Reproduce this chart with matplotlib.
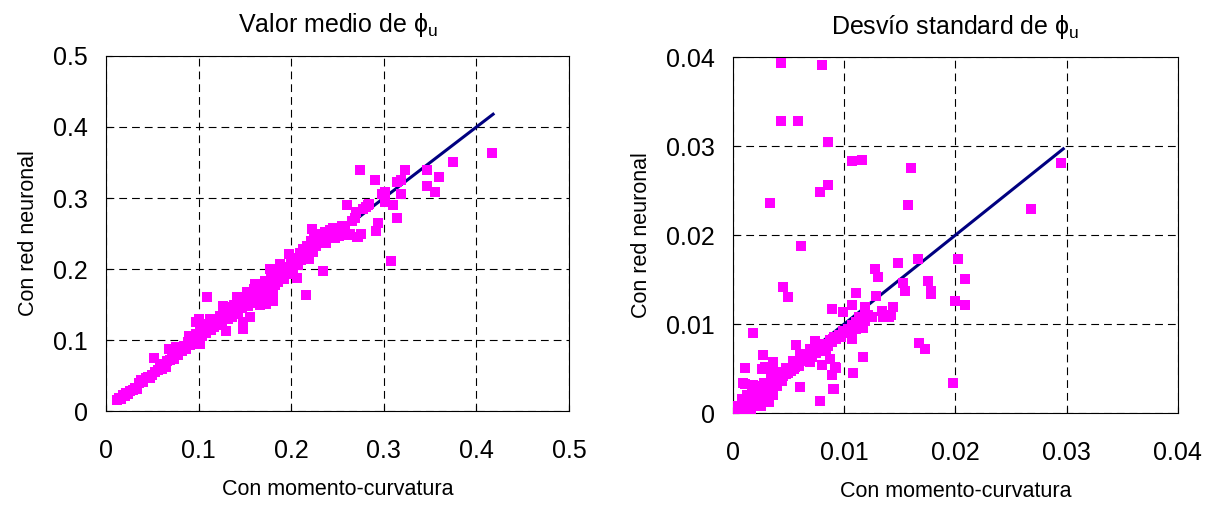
import matplotlib
matplotlib.use("Agg")
import matplotlib.pyplot as plt
from matplotlib import font_manager

plt.rcParams["font.family"] = ["Liberation Sans", "DejaVu Sans"]
plt.rcParams["mathtext.fontset"] = "custom"
plt.rcParams["mathtext.rm"] = "Liberation Sans"
plt.rcParams["mathtext.it"] = "Liberation Sans:italic"

# axis labels in the original are a narrow Arial; use the narrow face if it exists
_names = {f.name for f in font_manager.fontManager.ttflist}
if "Liberation Sans Narrow" in _names:
    LABEL_FONT, LABEL_SIZE = "Liberation Sans Narrow", 19
else:
    LABEL_FONT, LABEL_SIZE = "Liberation Sans", 15.5

# ── data: valor medio (momento-curvatura vs red neuronal) ─────────────────────
media_mc = [
    0.012, 0.014, 0.016, 0.018, 0.020, 0.022, 0.024, 0.026, 0.029, 0.031,
    0.033, 0.036, 0.038, 0.040, 0.043, 0.045, 0.047, 0.050, 0.052, 0.053,
    0.056, 0.058, 0.060, 0.062, 0.065, 0.066, 0.068, 0.069, 0.071, 0.073,
    0.075, 0.076, 0.078, 0.080, 0.082, 0.084, 0.086, 0.088, 0.090, 0.091,
    0.093, 0.095, 0.097, 0.097, 0.099, 0.100, 0.101, 0.102, 0.104, 0.106,
    0.108, 0.109, 0.110, 0.112, 0.113, 0.115, 0.117, 0.119, 0.121, 0.123,
    0.125, 0.126, 0.128, 0.130, 0.130, 0.132, 0.134, 0.136, 0.138, 0.140,
    0.141, 0.143, 0.145, 0.147, 0.148, 0.148, 0.150, 0.152, 0.153, 0.155,
    0.156, 0.158, 0.160, 0.161, 0.162, 0.164, 0.166, 0.168, 0.170, 0.172,
    0.173, 0.175, 0.177, 0.178, 0.180, 0.180, 0.182, 0.184, 0.186, 0.188,
    0.190, 0.192, 0.194, 0.196, 0.198, 0.198, 0.200, 0.202, 0.204, 0.206,
    0.207, 0.209, 0.211, 0.213, 0.215, 0.216, 0.217, 0.219, 0.221, 0.222,
    0.223, 0.225, 0.227, 0.229, 0.231, 0.233, 0.234, 0.236, 0.238, 0.240,
    0.242, 0.245, 0.247, 0.249, 0.252, 0.255, 0.258, 0.260, 0.262, 0.263,
    0.266, 0.269, 0.270, 0.271, 0.272, 0.274, 0.275, 0.278, 0.281, 0.283,
    0.284, 0.290, 0.292, 0.294, 0.298, 0.301, 0.301, 0.308, 0.310, 0.314,
    0.314, 0.318, 0.319, 0.323, 0.347, 0.347, 0.355, 0.360, 0.375, 0.417,
]
media_rn = [
    0.016, 0.019, 0.017, 0.022, 0.021, 0.025, 0.024, 0.028, 0.029, 0.033,
    0.031, 0.040, 0.043, 0.041, 0.046, 0.048, 0.047, 0.051, 0.074, 0.055,
    0.058, 0.062, 0.059, 0.066, 0.062, 0.070, 0.088, 0.072, 0.076, 0.073,
    0.081, 0.090, 0.079, 0.086, 0.084, 0.092, 0.088, 0.097, 0.106, 0.093,
    0.101, 0.098, 0.125, 0.108, 0.102, 0.130, 0.095, 0.113, 0.106, 0.118,
    0.110, 0.161, 0.122, 0.130, 0.114, 0.125, 0.118, 0.128, 0.121, 0.134,
    0.126, 0.148, 0.137, 0.146, 0.113, 0.129, 0.140, 0.133, 0.150, 0.143,
    0.160, 0.136, 0.152, 0.145, 0.116, 0.125, 0.157, 0.167, 0.148, 0.132,
    0.160, 0.152, 0.172, 0.179, 0.158, 0.165, 0.150, 0.175, 0.165, 0.183,
    0.151, 0.172, 0.200, 0.188, 0.165, 0.155, 0.178, 0.194, 0.182, 0.207,
    0.192, 0.186, 0.203, 0.198, 0.221, 0.193, 0.210, 0.200, 0.216, 0.188,
    0.205, 0.222, 0.212, 0.228, 0.218, 0.163, 0.232, 0.214, 0.240, 0.256,
    0.224, 0.246, 0.232, 0.250, 0.238, 0.244, 0.197, 0.252, 0.236, 0.248,
    0.255, 0.258, 0.243, 0.252, 0.247, 0.260, 0.256, 0.290, 0.248, 0.249,
    0.268, 0.272, 0.280, 0.245, 0.245, 0.339, 0.250, 0.284, 0.287, 0.290,
    0.292, 0.325, 0.253, 0.265, 0.305, 0.309, 0.295, 0.211, 0.290, 0.272,
    0.323, 0.306, 0.326, 0.340, 0.340, 0.317, 0.309, 0.329, 0.351, 0.363,
]
media_linea = [0.015, 0.418]

# ── data: desvío standard ────────────────────────────────────────────────────
desvio_mc = [
    0.0003, 0.0005, 0.0007, 0.0009, 0.0011, 0.0013, 0.0015, 0.0017, 0.0019, 0.0021,
    0.0023, 0.0025, 0.0027, 0.0029, 0.0031, 0.0033, 0.0035, 0.0037, 0.0039, 0.0041,
    0.0043, 0.0045, 0.0047, 0.0049, 0.0051, 0.0053, 0.0055, 0.0057, 0.0059, 0.0061,
    0.0063, 0.0065, 0.0067, 0.0069, 0.0071, 0.0073, 0.0075, 0.0077, 0.0079, 0.0081,
    0.0083, 0.0085, 0.0087, 0.0089, 0.0091, 0.0093, 0.0095, 0.0097, 0.0099, 0.0101,
    0.0103, 0.0105, 0.0107, 0.0109, 0.0111, 0.0113, 0.0115, 0.0117, 0.0119, 0.0121,
    0.0004, 0.0008, 0.0012, 0.0016, 0.0020, 0.0024, 0.0028, 0.0032, 0.0036, 0.0040,
    0.0011, 0.0018, 0.0026, 0.0029, 0.0036, 0.0027, 0.0018, 0.0042, 0.0048, 0.0054,
    0.0060, 0.0057, 0.0069, 0.0074, 0.0060, 0.0078, 0.0069, 0.0080, 0.0084, 0.0087,
    0.0093, 0.0089, 0.0091, 0.0108, 0.0117, 0.0090, 0.0096, 0.0107, 0.0089, 0.0099,
    0.0107, 0.0111, 0.0045, 0.0049, 0.0113, 0.0117, 0.0111, 0.0119, 0.0125, 0.0129,
    0.0134, 0.0135, 0.0033, 0.0011, 0.0026, 0.0009, 0.0005, 0.0008, 0.0010, 0.0013,
    0.0015, 0.0017, 0.0019, 0.0021, 0.0023, 0.0025, 0.0028, 0.0030, 0.0032, 0.0034,
    0.0038, 0.0040, 0.0044, 0.0048, 0.0052, 0.0056,
    0.0043, 0.0080, 0.0043, 0.0058, 0.0085, 0.0107, 0.0116, 0.0160, 0.0295, 0.0078,
    0.0085, 0.0033, 0.0157, 0.0268, 0.0061, 0.0202, 0.0166, 0.0148, 0.0128, 0.0130,
    0.0209, 0.0175, 0.0153, 0.0155, 0.0178, 0.0178, 0.0200, 0.0209, 0.0144, 0.0142,
    0.0140, 0.0167, 0.0173, 0.0198, 0.0090, 0.0092,
]
desvio_rn = [
    0.0004, 0.0008, 0.0006, 0.0012, 0.0010, 0.0014, 0.0017, 0.0016, 0.0020, 0.0022,
    0.0021, 0.0025, 0.0027, 0.0026, 0.0030, 0.0032, 0.0031, 0.0035, 0.0037, 0.0036,
    0.0041, 0.0042, 0.0046, 0.0045, 0.0049, 0.0051, 0.0050, 0.0055, 0.0053, 0.0058,
    0.0061, 0.0059, 0.0064, 0.0066, 0.0063, 0.0070, 0.0068, 0.0074, 0.0072, 0.0076,
    0.0078, 0.0075, 0.0082, 0.0080, 0.0085, 0.0083, 0.0088, 0.0086, 0.0092, 0.0090,
    0.0095, 0.0093, 0.0099, 0.0097, 0.0102, 0.0100, 0.0104, 0.0106, 0.0103, 0.0110,
    0.0008, 0.0016, 0.0009, 0.0005, 0.0013, 0.0010, 0.0024, 0.0016, 0.0020, 0.0030,
    0.0033, 0.0031, 0.0027, 0.0052, 0.0057, 0.0065, 0.0090, 0.0046, 0.0051, 0.0059,
    0.0066, 0.0076, 0.0072, 0.0081, 0.0029, 0.0013, 0.0057, 0.0054, 0.0070, 0.0061,
    0.0051, 0.0043, 0.0027, 0.0045, 0.0063, 0.0083, 0.0087, 0.0083, 0.0117, 0.0113,
    0.0121, 0.0135, 0.0142, 0.0130, 0.0108, 0.0096, 0.0094, 0.0119, 0.0108, 0.0132,
    0.0115, 0.0108, 0.0049, 0.0051, 0.0049, 0.0034, 0.0002, 0.0010, 0.0004, 0.0020,
    0.0008, 0.0025, 0.0012, 0.0030, 0.0018, 0.0008, 0.0034, 0.0022, 0.0012, 0.0040,
    0.0030, 0.0046, 0.0036, 0.0044, 0.0047, 0.0052,
    0.0393, 0.0391, 0.0328, 0.0328, 0.0305, 0.0283, 0.0285, 0.0276, 0.0281, 0.0249,
    0.0256, 0.0236, 0.0234, 0.0229, 0.0188, 0.0173, 0.0173, 0.0169, 0.0162, 0.0153,
    0.0151, 0.0148, 0.0146, 0.0137, 0.0137, 0.0134, 0.0126, 0.0121, 0.0119, 0.0110,
    0.0108, 0.0079, 0.0072, 0.0034, 0.0027, 0.0052,
]
desvio_linea = [0.0, 0.0297]

MAGENTA = "#FF00FF"
NAVY    = "#000080"

fig = plt.figure(figsize=(12.12, 5.09), dpi=100)
ax1 = fig.add_axes([0.0875, 0.1925, 0.382, 0.6975])
ax2 = fig.add_axes([0.6048, 0.1886, 0.367, 0.699])

panels = [
    (ax1, media_mc, media_rn, media_linea, 0.5, [0, 0.1, 0.2, 0.3, 0.4, 0.5],
     r"Valor medio de $\mathrm{\phi}_{\mathrm{u}}$"),
    (ax2, desvio_mc, desvio_rn, desvio_linea, 0.04, [0, 0.01, 0.02, 0.03, 0.04],
     r"Desvío standard de $\mathrm{\phi}_{\mathrm{u}}$"),
]

for ax, xs, ys, linea, lim, ticks, title in panels:
    # points sit on top of the 1:1 line, as in the original
    ax.plot(linea, linea, color=NAVY, linewidth=2.2, zorder=2.5)
    ax.scatter(xs, ys, marker="s", s=42, color=MAGENTA, linewidths=0, zorder=3)
    ax.set_xlim(0, lim)
    ax.set_ylim(0, lim)
    ax.set_xticks(ticks)
    ax.set_yticks(ticks)
    ax.set_xticklabels([f"{t:g}" for t in ticks])
    ax.set_yticklabels([f"{t:g}" for t in ticks])
    ax.grid(True, color="black", linestyle=(0, (7, 4.5)), linewidth=0.8)
    ax.set_axisbelow(True)
    ax.tick_params(direction="in", length=4, labelsize=18, pad=13)
    ax.tick_params(axis="x", pad=20)
    ax.set_title(title, fontsize=18, pad=17)
    ax.set_xlabel("Con momento-curvatura", fontsize=LABEL_SIZE, family=LABEL_FONT, labelpad=12)
    ax.set_ylabel("Con red neuronal", fontsize=LABEL_SIZE, family=LABEL_FONT, labelpad=10)

fig.savefig("out.png", dpi=100)
